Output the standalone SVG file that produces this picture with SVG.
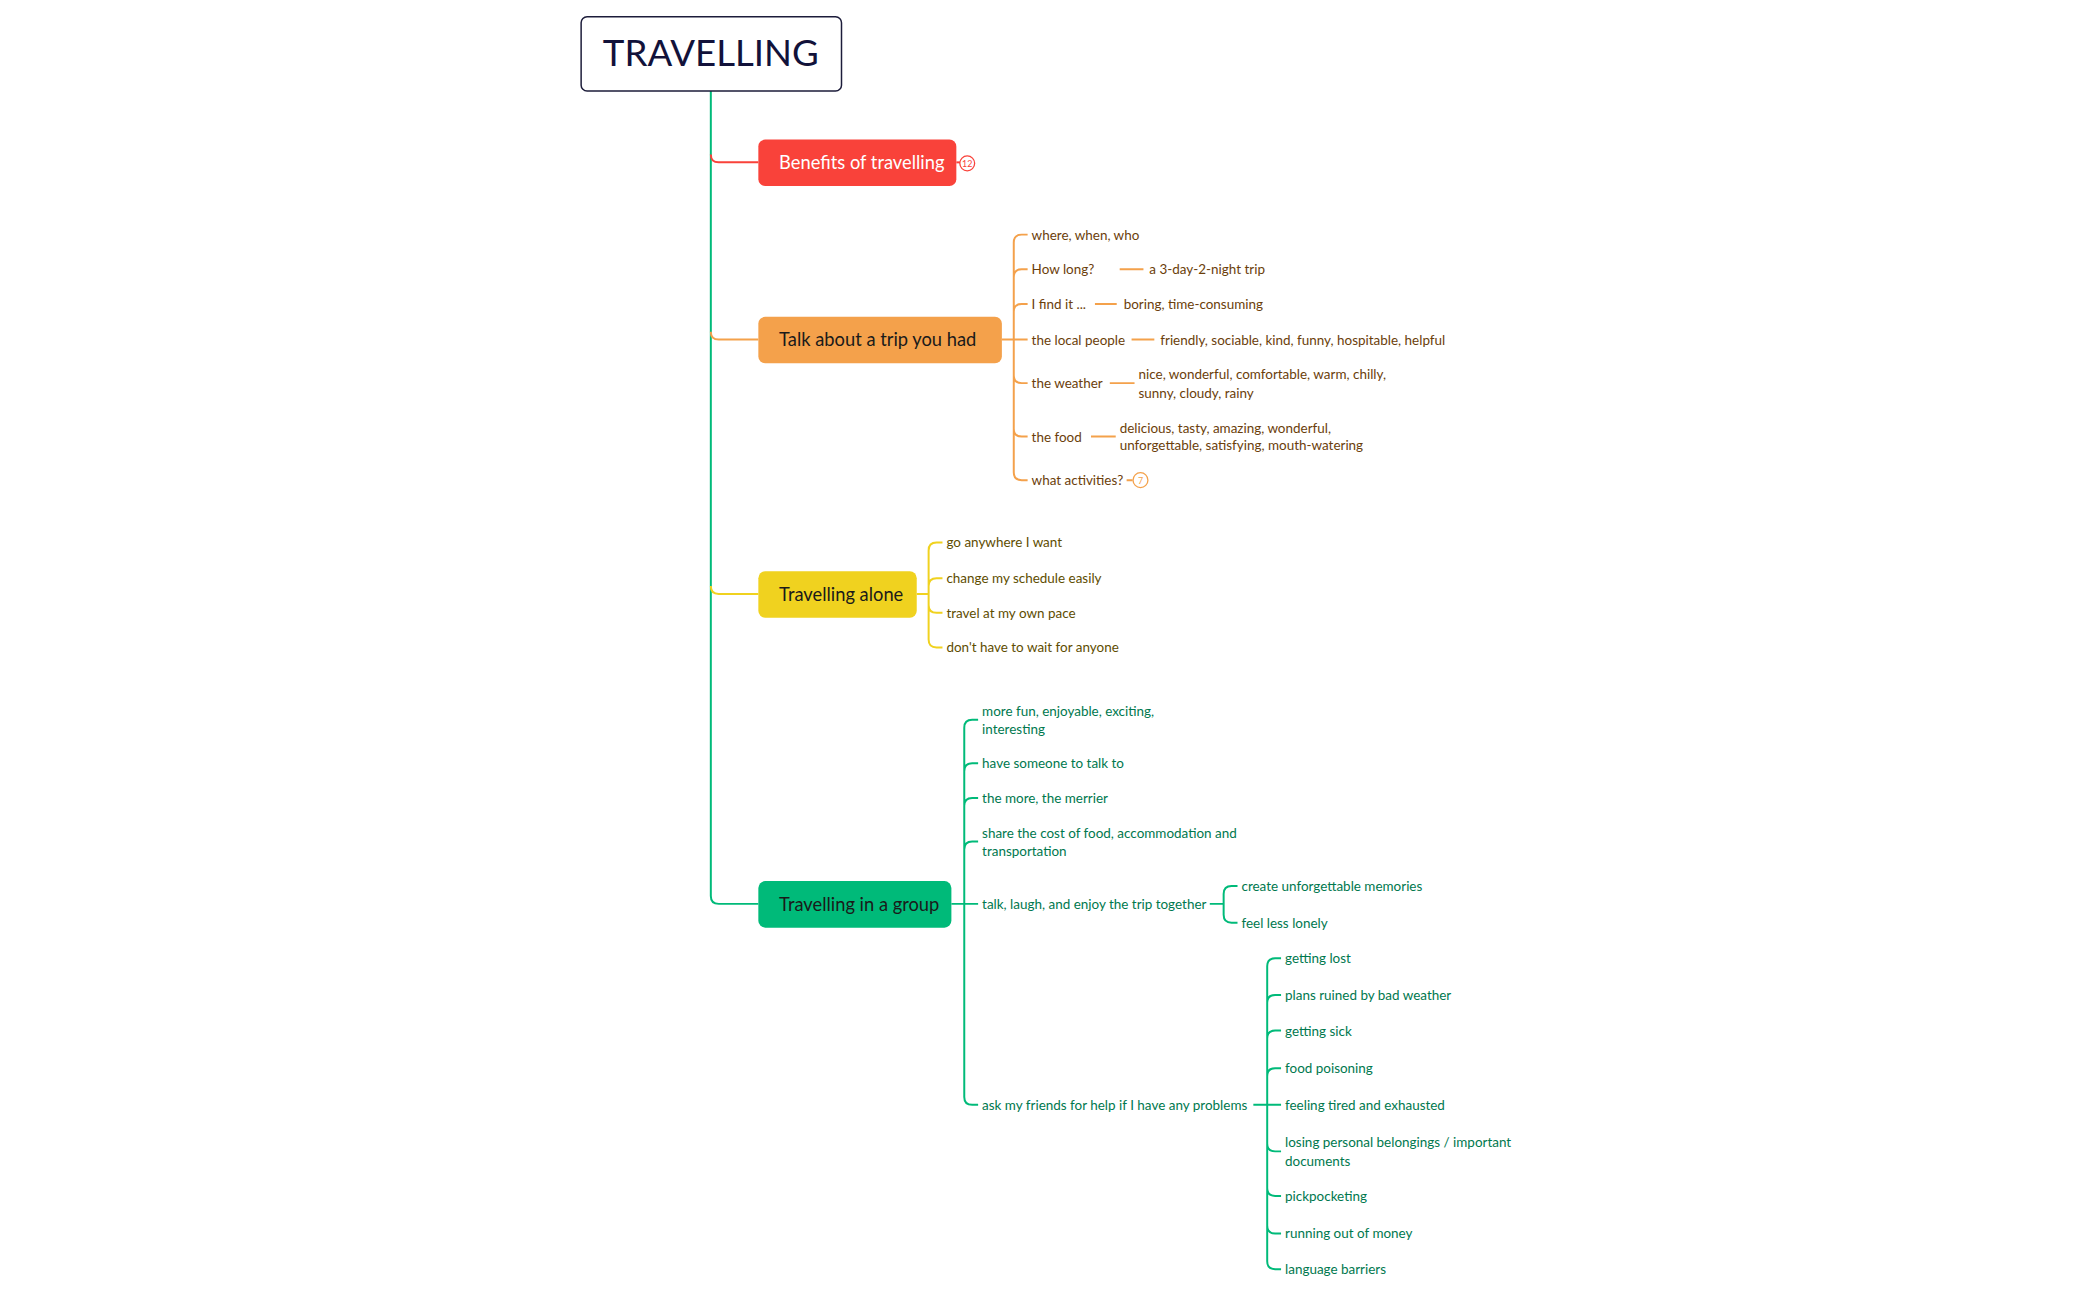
<svg xmlns="http://www.w3.org/2000/svg" width="2099" height="1300" viewBox="0 0 2099 1300">
<style>
text{font-family:Lato,"Open Sans","Liberation Sans",sans-serif}
.t{font-size:13.6px}
.o{fill:#6b3e0a}.y{fill:#5e4d00}.g{fill:#00784e}
.main{font-size:18.5px}
.c{fill:none;stroke-width:2}
.co{stroke:#F4A14B}.cy{stroke:#F0D21F}.cg{stroke:#00BA79}.cr{stroke:#F9423A}
</style>
<rect width="2099" height="1300" fill="#fff"/>
<g transform="scale(0.99)">
<g id="connectors">
<path class="c cg" d="M718,92 V905 Q718,913 726,913 H766"/>
<path class="c cr" d="M718,156 Q718,164 726,164 H766"/>
<path class="c co" d="M718,335 Q718,343 726,343 H766"/>
<path class="c cy" d="M718,592 Q718,600 726,600 H766"/>
<path class="c cr" d="M966,164 H970" />
<g class="c co">
<path d="M1012,343 H1024 M1024,343 V245 Q1024,237 1032,237 H1038 M1024,343 V280 Q1024,272 1032,272 H1038 M1024,343 V315 Q1024,307 1032,307 H1038 M1024,343 H1038 M1024,343 V379 Q1024,387 1032,387 H1038 M1024,343 V433 Q1024,441 1032,441 H1038 M1024,343 V477 Q1024,485 1032,485 H1038"/>
<path d="M1131,272 H1155 M1106,307 H1128 M1143,343 H1166 M1121,387 H1146 M1102,441 H1127 M1138,485 H1144"/>
</g>
<path class="c cy" d="M926,600 H938 M938,600 V556 Q938,548 946,548 H952 M938,600 V592 Q938,584 946,584 H952 M938,600 V611 Q938,619 946,619 H952 M938,600 V646 Q938,654 946,654 H952"/>
<g class="c cg">
<path d="M961,913 H974 M974,913 V735 Q974,727 982,727 H988 M974,913 V779 Q974,771 982,771 H988 M974,913 V814 Q974,806 982,806 H988 M974,913 V858 Q974,850 982,850 H988 M974,913 H988 M974,913 V1108 Q974,1116 982,1116 H988"/>
<path d="M1222,913 H1236 M1236,913 V903 Q1236,895 1244,895 H1250 M1236,913 V924 Q1236,932 1244,932 H1250"/>
<path d="M1266,1116 H1280 M1280,1116 V976 Q1280,968 1288,968 H1294 M1280,1116 V1013 Q1280,1005 1288,1005 H1294 M1280,1116 V1049 Q1280,1041 1288,1041 H1294 M1280,1116 V1087 Q1280,1079 1288,1079 H1294 M1280,1116 H1294 M1280,1116 V1155 Q1280,1163 1288,1163 H1294 M1280,1116 V1200 Q1280,1208 1288,1208 H1294 M1280,1116 V1238 Q1280,1246 1288,1246 H1294 M1280,1116 V1274 Q1280,1282 1288,1282 H1294"/>
</g>
</g>
<g id="root"><rect x="587" y="17" width="263" height="75" rx="6" fill="#fff" stroke="#1c1c3a" stroke-width="1.5"/><text x="718" y="67" font-size="37" text-anchor="middle" fill="#12123a">TRAVELLING</text></g>
<g id="benefits"><rect x="766" y="141" width="200" height="47" rx="7" fill="#F9423A"/><text class="main" x="787" y="171" fill="#fff">Benefits of travelling</text><circle cx="977" cy="165" r="7.5" fill="#fff" stroke="#F9423A" stroke-width="1.3"/><text x="977" y="169" font-size="9" text-anchor="middle" fill="#F9423A">12</text></g>
<g id="trip"><rect x="766" y="320" width="246" height="47" rx="7" fill="#F4A14B"/><text class="main" x="787" y="350" fill="#1a1a1a">Talk about a trip you had</text></g>
<g id="alone"><rect x="766" y="577" width="160" height="47" rx="7" fill="#F0D21F"/><text class="main" x="787" y="607" fill="#1a1a1a">Travelling alone</text></g>
<g id="group"><rect x="766" y="890" width="195" height="47" rx="7" fill="#00BA79"/><text class="main" x="787" y="920" fill="#1a1a1a">Travelling in a group</text></g>
<g id="trip-children" class="t o">
<text x="1042" y="242">where, when, who</text>
<text x="1042" y="277">How long?</text><text x="1161" y="277">a 3-day-2-night trip</text>
<text x="1042" y="312">I find it ...</text><text x="1135" y="312">boring, time-consuming</text>
<text x="1042" y="348">the local people</text><text x="1172" y="348">friendly, sociable, kind, funny, hospitable, helpful</text>
<text x="1042" y="392">the weather</text><text x="1150" y="383">nice, wonderful, comfortable, warm, chilly,</text><text x="1150" y="402">sunny, cloudy, rainy</text>
<text x="1042" y="446">the food</text><text x="1131" y="437">delicious, tasty, amazing, wonderful,</text><text x="1131" y="455">unforgettable, satisfying, mouth-watering</text>
<text x="1042" y="490">what activities?</text>
</g>
<g id="activities-badge"><circle cx="1152" cy="485" r="7.5" fill="#fff" stroke="#F4A14B" stroke-width="1.3"/><text x="1152" y="489" font-size="9" text-anchor="middle" fill="#F4A14B">7</text></g>
<g id="alone-children" class="t y">
<text x="956" y="553">go anywhere I want</text>
<text x="956" y="589">change my schedule easily</text>
<text x="956" y="624">travel at my own pace</text>
<text x="956" y="659">don't have to wait for anyone</text>
</g>
<g id="group-children" class="t g">
<text x="992" y="723">more fun, enjoyable, exciting,</text><text x="992" y="741">interesting</text>
<text x="992" y="776">have someone to talk to</text>
<text x="992" y="811">the more, the merrier</text>
<text x="992" y="846">share the cost of food, accommodation and</text><text x="992" y="865">transportation</text>
<text x="992" y="918">talk, laugh, and enjoy the trip together</text>
<text x="992" y="1121">ask my friends for help if I have any problems</text>
<text x="1254" y="900">create unforgettable memories</text>
<text x="1254" y="937">feel less lonely</text>
<text x="1298" y="973">getting lost</text>
<text x="1298" y="1010">plans ruined by bad weather</text>
<text x="1298" y="1046">getting sick</text>
<text x="1298" y="1084">food poisoning</text>
<text x="1298" y="1121">feeling tired and exhausted</text>
<text x="1298" y="1159">losing personal belongings / important</text><text x="1298" y="1178">documents</text>
<text x="1298" y="1213">pickpocketing</text>
<text x="1298" y="1251">running out of money</text>
<text x="1298" y="1287">language barriers</text>
</g>
</g>
</svg>
